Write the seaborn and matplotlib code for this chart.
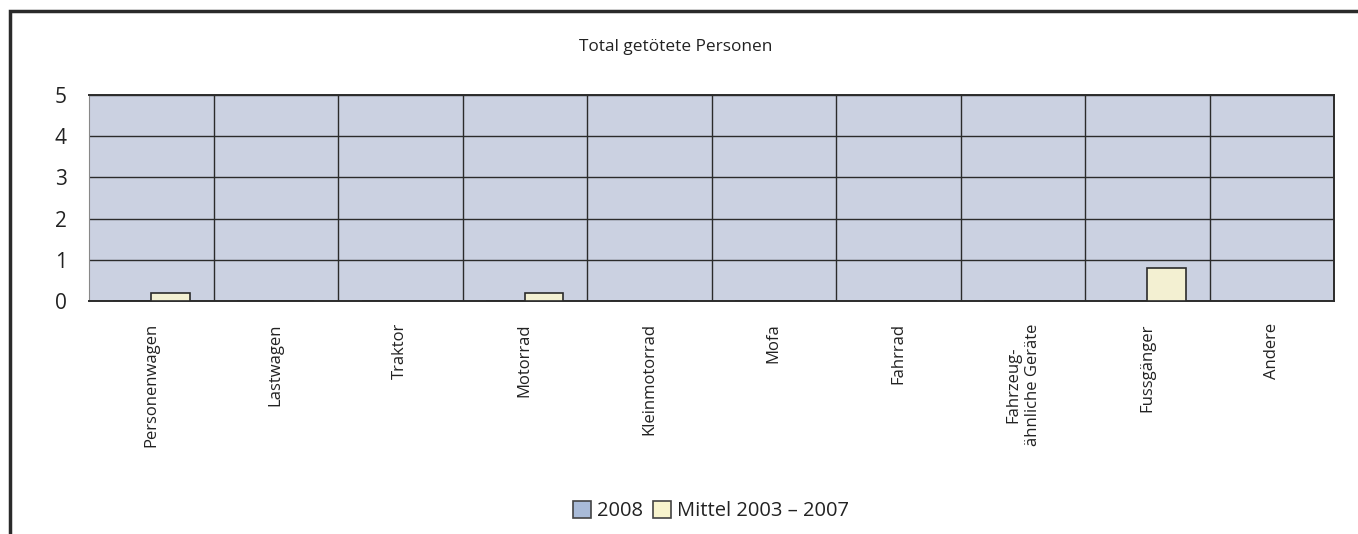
import matplotlib
matplotlib.use("Agg")
import matplotlib.pyplot as plt
import seaborn as sns
import pandas as pd
from matplotlib.patches import Rectangle, Patch

# Data
categories = ["Personenwagen", "Lastwagen", "Traktor", "Motorrad", "Kleinmotorrad",
              "Mofa", "Fahrrad", "Fahrzeug-\nähnliche Geräte", "Fussgänger", "Andere"]
values_2008 = [0, 0, 0, 0, 0, 0, 0, 0, 0, 0]
values_mittel = [0.2, 0, 0, 0.2, 0, 0, 0, 0, 0.8, 0]
series_names = ["2008", "Mittel 2003 – 2007"]
y_ticks = [0, 1, 2, 3, 4, 5]
title = "Total getötete Personen"

df = pd.DataFrame({
    "Kategorie": categories * 2,
    "Wert": values_2008 + values_mittel,
    "Serie": [series_names[0]] * len(categories) + [series_names[1]] * len(categories),
})

sns.set_style("white")
plt.rcParams["font.family"] = ["Open Sans", "DejaVu Sans"]

colors = {"2008": "#A9BBD8", "Mittel 2003 – 2007": "#F8F4CD"}
edge = "#2B2B2B"
face = "#CBD1E1"
text_color = "#222222"

fig = plt.figure(figsize=(13.58, 5.34), dpi=100)
ax = fig.add_axes([89 / 1358, 1 - 301 / 534, (1334 - 89) / 1358, (301 - 95) / 534])
ax.set_facecolor(face)

sns.barplot(data=df, x="Kategorie", y="Wert", hue="Serie", palette=colors,
            width=0.62, edgecolor=edge, linewidth=1.2, ax=ax, legend=False,
            zorder=3)

n = len(categories)
ax.set_xlim(-0.5, n - 0.5)
ax.set_ylim(0, 5)
ax.set_yticks(y_ticks)
ax.set_yticklabels([str(v) for v in y_ticks], fontsize=15, color=text_color)

# horizontal gridlines and category separators
for v in y_ticks[1:]:
    ax.axhline(v, color=edge, lw=1.0, zorder=1)
for i in range(1, n):
    ax.axvline(i - 0.5, color=edge, lw=1.0, zorder=1)

ax.set_xticks(list(range(n)))
ax.set_xticklabels(categories, rotation=90, fontsize=12, color=text_color,
                   va="top", ha="center", linespacing=1.3, multialignment="center")
ax.tick_params(axis="x", length=0, pad=16)
# small outward ticks at category boundaries
ax.set_xticks([i - 0.5 for i in range(n + 1)], minor=True)
ax.tick_params(axis="x", which="minor", length=7, width=1, color="#555555", direction="out")
ax.tick_params(axis="y", length=8, width=1, color="#555555", direction="out", pad=8)

ax.set_xlabel("")
ax.set_ylabel("")
for side in ["top", "right", "left", "bottom"]:
    ax.spines[side].set_visible(True)
    ax.spines[side].set_color(edge)
    ax.spines[side].set_linewidth(1.4)
ax.spines["left"].set_color("#888888")
ax.spines["left"].set_linewidth(0.8)

fig.text(676 / 1358, 1 - 47 / 534, title, ha="center", va="center",
         fontsize=12.4, color=text_color)

handles = [Patch(facecolor=colors[s], edgecolor="#444444", linewidth=1.2) for s in series_names]
fig.legend(handles, series_names, loc="center", bbox_to_anchor=(711 / 1358, 1 - 511 / 534),
           ncol=2, frameon=False, fontsize=14.5, handlelength=0.9, handleheight=0.9,
           handletextpad=0.3, columnspacing=0.5, borderaxespad=0, labelcolor=text_color)

# outer frame
fig.patches.append(Rectangle((10 / 1358, -0.1), 1.2, 1 - 11 / 534 + 0.1,
                             transform=fig.transFigure, fill=False,
                             edgecolor="#2A2A2A", linewidth=2.5))

fig.savefig("out.png", dpi=100, facecolor="white")
